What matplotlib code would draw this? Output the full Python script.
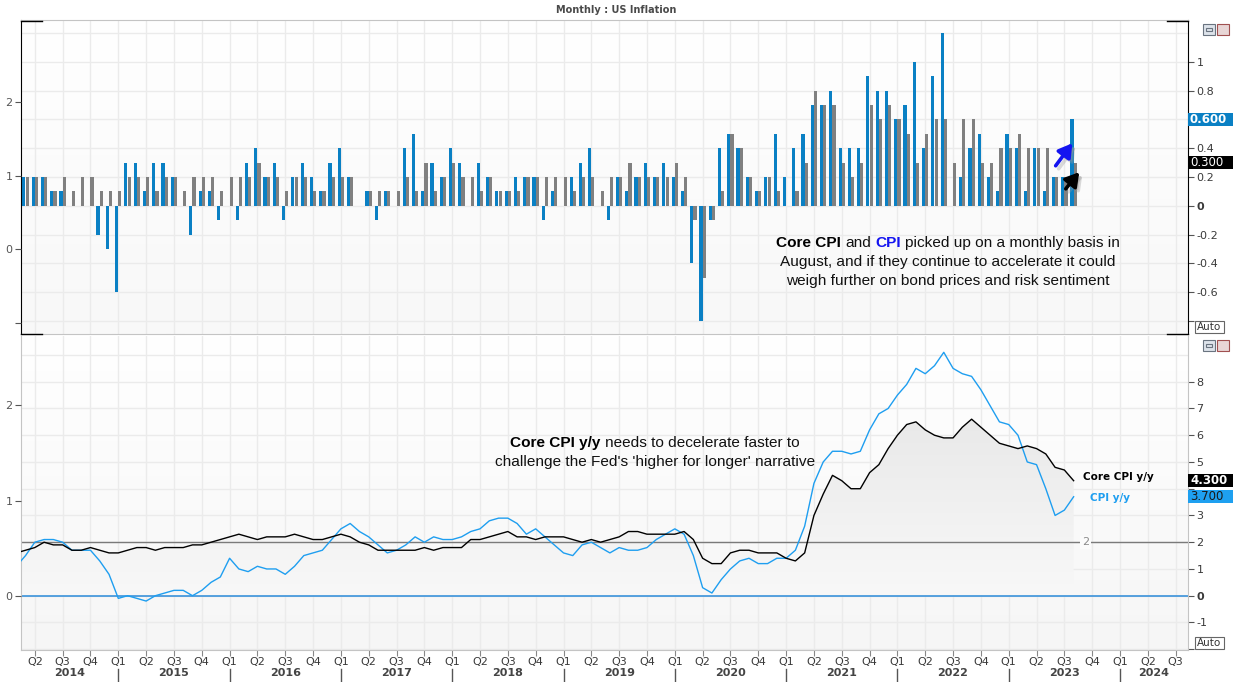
import matplotlib
matplotlib.use("Agg")
import matplotlib.pyplot as plt
import matplotlib.colors as mcolors
import numpy as np
from matplotlib.patches import Rectangle, FancyArrowPatch
from matplotlib.lines import Line2D

W, H = 1233, 682
SANS = ["Liberation Sans", "DejaVu Sans"]
UI = "DejaVu Sans"

# x positions are month indices, 0 = Jan 2014
BAR_FIRST = 2    # Mar 2014
LINE_FIRST = 1   # Feb 2014

# monthly % change, Mar 2014 .. Aug 2023
cpi_mm = [
    0.2, 0.2, 0.2, 0.1, 0.1, 0.0, 0.0, 0.0, -0.2, -0.3,
    -0.6, 0.3, 0.3, 0.1, 0.3, 0.3, 0.2, 0.0, -0.2, 0.1, 0.1, -0.1,
    0.0, -0.1, 0.3, 0.4, 0.2, 0.3, -0.1, 0.2, 0.3, 0.2, 0.1, 0.3,
    0.4, 0.2, 0.0, 0.1, -0.1, 0.1, 0.0, 0.4, 0.5, 0.1, 0.3, 0.2,
    0.4, 0.3, 0.0, 0.3, 0.2, 0.1, 0.1, 0.2, 0.2, 0.2, -0.1, 0.1,
    0.0, 0.2, 0.3, 0.4, 0.0, -0.1, 0.2, 0.1, 0.2, 0.3, 0.2, 0.3,
    0.2, 0.1, -0.4, -0.8, -0.1, 0.4, 0.5, 0.4, 0.2, 0.1, 0.2, 0.5,
    0.2, 0.4, 0.5, 0.7, 0.7, 0.8, 0.4, 0.4, 0.4, 0.9, 0.8, 0.8,
    0.6, 0.7, 1.0, 0.4, 0.9, 1.2, 0.0, 0.2, 0.4, 0.5, 0.2, 0.1,
    0.5, 0.4, 0.1, 0.4, 0.1, 0.2, 0.2, 0.6,
]
core_mm = [
    0.2, 0.2, 0.2, 0.1, 0.2, 0.1, 0.2, 0.2, 0.1, 0.1,
    0.1, 0.2, 0.2, 0.2, 0.1, 0.2, 0.2, 0.1, 0.2, 0.2, 0.2, 0.1,
    0.2, 0.2, 0.2, 0.3, 0.2, 0.2, 0.1, 0.2, 0.2, 0.1, 0.1, 0.2,
    0.2, 0.2, 0.0, 0.1, 0.1, 0.1, 0.1, 0.2, 0.1, 0.3, 0.1, 0.2,
    0.3, 0.2, 0.2, 0.1, 0.2, 0.1, 0.1, 0.1, 0.2, 0.2, 0.2, 0.2,
    0.2, 0.1, 0.2, 0.2, 0.1, 0.2, 0.2, 0.3, 0.2, 0.2, 0.2, 0.2,
    0.3, 0.2, -0.1, -0.5, -0.1, 0.1, 0.5, 0.4, 0.2, 0.1, 0.2, 0.1,
    0.0, 0.1, 0.3, 0.8, 0.7, 0.7, 0.3, 0.2, 0.3, 0.7, 0.6, 0.7,
    0.6, 0.5, 0.3, 0.5, 0.6, 0.6, 0.3, 0.6, 0.6, 0.3, 0.3, 0.4,
    0.4, 0.5, 0.4, 0.4, 0.4, 0.2, 0.2, 0.3,
]

# year-on-year %, Feb 2014 .. Aug 2023
cpi_yy = [
    1.1, 1.5, 2.0, 2.1, 2.1, 2.0, 1.7, 1.7, 1.7, 1.3, 0.8,
    -0.1, 0.0, -0.1, -0.2, 0.0, 0.1, 0.2, 0.2, 0.0, 0.2, 0.5, 0.7,
    1.4, 1.0, 0.9, 1.1, 1.0, 1.0, 0.8, 1.1, 1.5, 1.6, 1.7, 2.1,
    2.5, 2.7, 2.4, 2.2, 1.9, 1.6, 1.7, 1.9, 2.2, 2.0, 2.2, 2.1,
    2.1, 2.2, 2.4, 2.5, 2.8, 2.9, 2.9, 2.7, 2.3, 2.5, 2.2, 1.9,
    1.6, 1.5, 1.9, 2.0, 1.8, 1.6, 1.8, 1.7, 1.7, 1.8, 2.1, 2.3,
    2.5, 2.3, 1.5, 0.3, 0.1, 0.6, 1.0, 1.3, 1.4, 1.2, 1.2, 1.4,
    1.4, 1.7, 2.6, 4.2, 5.0, 5.4, 5.4, 5.3, 5.4, 6.2, 6.8, 7.0,
    7.5, 7.9, 8.5, 8.3, 8.6, 9.1, 8.5, 8.3, 8.2, 7.7, 7.1, 6.5,
    6.4, 6.0, 5.0, 4.9, 4.0, 3.0, 3.2, 3.7,
]
core_yy = [
    1.6, 1.7, 1.8, 2.0, 1.9, 1.9, 1.7, 1.7, 1.8, 1.7, 1.6,
    1.6, 1.7, 1.8, 1.8, 1.7, 1.8, 1.8, 1.8, 1.9, 1.9, 2.0, 2.1,
    2.2, 2.3, 2.2, 2.1, 2.2, 2.2, 2.2, 2.3, 2.2, 2.1, 2.1, 2.2,
    2.3, 2.2, 2.0, 1.9, 1.7, 1.7, 1.7, 1.7, 1.7, 1.8, 1.7, 1.8,
    1.8, 1.8, 2.1, 2.1, 2.2, 2.3, 2.4, 2.2, 2.2, 2.1, 2.2, 2.2,
    2.2, 2.1, 2.0, 2.1, 2.0, 2.1, 2.2, 2.4, 2.4, 2.3, 2.3, 2.3,
    2.3, 2.4, 2.1, 1.4, 1.2, 1.2, 1.6, 1.7, 1.7, 1.6, 1.6, 1.6,
    1.4, 1.3, 1.6, 3.0, 3.8, 4.5, 4.3, 4.0, 4.0, 4.6, 4.9, 5.5,
    6.0, 6.4, 6.5, 6.2, 6.0, 5.9, 5.9, 6.3, 6.6, 6.3, 6.0, 5.7,
    5.6, 5.5, 5.6, 5.5, 5.3, 4.8, 4.7, 4.3,
]

years = list(range(2014, 2025))
XMIN, XMAX = 1.51, 127.33

BAR_BLUE = "#0a80c4"
BAR_GREY = "#808080"
LINE_BLUE = "#1e9ef0"
GRID = "#ebebeb"
FRAME = "#c4c4c4"
TXT = "#3a3a3a"

fig = plt.figure(figsize=(W / 100, H / 100), dpi=100)


def px_axes(left, top, right, bottom):
    return fig.add_axes([left / W, 1 - bottom / H, (right - left) / W, (bottom - top) / H])


def vgrad(ax, top_color, bottom_color, extent, transform, zorder, clip=None):
    c0 = np.array(mcolors.to_rgb(top_color))
    c1 = np.array(mcolors.to_rgb(bottom_color))
    t = np.linspace(0, 1, 256)[:, None]
    img = (c0 * (1 - t) + c1 * t)[:, None, :]
    im = ax.imshow(img, extent=extent, transform=transform, aspect="auto",
                   zorder=zorder, interpolation="bilinear")
    if clip is not None:
        im.set_clip_path(clip, ax.transData)
    return im


def fig_line(x0, y0, x1, y1, color, lw=1.0):
    fig.add_artist(Line2D([x0 / W, x1 / W], [1 - y0 / H, 1 - y1 / H],
                          transform=fig.transFigure, color=color, lw=lw))


def fig_rect(x, y, w, h, fc, ec="none", lw=1.0, z=5):
    fig.add_artist(Rectangle((x / W, 1 - (y + h) / H), w / W, h / H,
                             transform=fig.transFigure, facecolor=fc,
                             edgecolor=ec, lw=lw, zorder=z))


def style_frame(ax, left_color, right_color):
    ax.spines["top"].set_color(FRAME)
    ax.spines["bottom"].set_color(FRAME)
    ax.spines["left"].set_color(left_color)
    ax.spines["right"].set_color(right_color)


def scales(ax, lo, hi, ticks, labels):
    # left-hand secondary scale; the main (right) scale belongs to ax
    tw = ax.twinx()
    tw.set_ylim(lo, hi)
    tw.yaxis.set_ticks_position("left")
    tw.set_yticks(ticks)
    tw.set_yticklabels(labels)
    tw.tick_params(axis="y", length=4, width=0.8, color="#555555",
                   labelsize=8, labelcolor="#555555", pad=2)
    for s in tw.spines.values():
        s.set_visible(False)
    ax.yaxis.set_ticks_position("right")
    ax.tick_params(axis="y", which="both", length=4, width=0.8, color="#555555",
                   labelsize=8, labelcolor=TXT, pad=2,
                   left=False, labelleft=False, right=True, labelright=True)
    for lab in ax.get_yticklabels():
        if lab.get_text() == "0":
            lab.set_fontweight("bold")
    return tw


quarters = np.arange(3, 127, 3)
jans = [12 * (y - 2014) for y in years]

# ---------------- top panel: monthly bars ----------------
ax1 = px_axes(21, 20, 1188, 334)
style_frame(ax1, "black", "black")
vgrad(ax1, "#ffffff", "#f8f8f8", [0, 1, 0, 1], ax1.transAxes, 0)
for q in quarters:
    ax1.axvline(q, color=GRID, lw=1, zorder=0.5)
for v in np.arange(-0.8, 1.21, 0.2):
    ax1.axhline(v, color=GRID, lw=1, zorder=0.5)

mb = np.arange(BAR_FIRST, BAR_FIRST + len(cpi_mm))
ax1.bar(mb - 0.18, cpi_mm, width=0.34, color=BAR_BLUE, zorder=2)
ax1.bar(mb + 0.17, core_mm, width=0.34, color=BAR_GREY, zorder=2)

ax1.set_xlim(XMIN, XMAX)
ax1.set_ylim(-0.89, 1.29)
ticks1 = np.round(np.arange(-0.8, 1.01, 0.2), 1)
ax1.set_yticks(ticks1)
# -0.8 sits under the "Auto" button, 0.6 under the last-value box
ax1.set_yticklabels(["" if t in (-0.8, 0.6) else ("0" if t == 0 else f"{t:g}") for t in ticks1])
ax1.set_xticks([])
scales(ax1, -1.15, 3.12, [-1, 0, 1, 2], ["", "0", "1", "2"])

# ---------------- bottom panel: y/y lines ----------------
ax2 = px_axes(21, 336, 1188, 650)
style_frame(ax2, FRAME, FRAME)
ax2.spines["top"].set_visible(False)
vgrad(ax2, "#ffffff", "#f6f6f6", [0, 1, 0, 1], ax2.transAxes, 0)
for q in quarters:
    ax2.axvline(q, color=GRID, lw=1, zorder=0.5)
for v in range(-2, 10):
    ax2.axhline(v, color=GRID, lw=1, zorder=0.5)

ml = np.arange(LINE_FIRST, LINE_FIRST + len(cpi_yy))
area = ax2.fill_between(ml, core_yy, 0, facecolor="none", edgecolor="none")
vgrad(ax2, "#e9e9e9", "#f8f8f8", [ml[0], ml[-1], 0, max(core_yy)], ax2.transData, 1,
      clip=area.get_paths()[0])

ax2.axhline(0, color="#2a8ad8", lw=1.1, zorder=2)
ax2.axhline(2, color="#7a7a7a", lw=1, zorder=2)
ax2.text(116.3, 2, "2", color="#8a8a8a", fontsize=8, family=UI, ha="center", va="center",
         zorder=3, bbox=dict(boxstyle="square,pad=0.15", fc="#fbfbfb", ec="none"))

ax2.plot(ml, cpi_yy, color=LINE_BLUE, lw=1.0, zorder=3)
ax2.plot(ml, core_yy, color="black", lw=1.0, zorder=4)

ax2.set_xlim(XMIN, XMAX)
ax2.set_ylim(-2.03, 9.71)
ticks2 = list(range(-2, 9))
ax2.set_yticks(ticks2)
ax2.set_yticklabels(["" if t in (-2, 4) else str(t) for t in ticks2])
scales(ax2, -0.57, 2.73, [0, 1, 2], ["0", "1", "2"])

ax2.set_xticks(quarters)
ax2.set_xticklabels([f"Q{(q % 12) // 3 + 1}" for q in quarters])
ax2.tick_params(axis="x", length=4, width=0.8, color="#888888", labelsize=8,
                labelcolor=TXT, pad=1)
for lab in ax2.get_xticklabels():
    lab.set_family(UI)

xt = ax2.get_xaxis_transform()
for y, j in zip(years, jans):
    lo, hi = max(j, XMIN), min(j + 12, XMAX)
    ax2.text((lo + hi) / 2, -0.073, str(y), transform=xt, ha="center", va="center",
             fontsize=8, fontweight="bold", color="#444444", family=UI, clip_on=False)
    if XMIN < j < XMAX:
        ax2.add_line(Line2D([j, j], [-0.060, -0.102], transform=xt, color="#555555",
                            lw=1, clip_on=False))

# black caps on the top panel's scale lines
fig_line(21, 20.5, 42, 20.5, "black")
fig_line(21, 333.5, 42, 333.5, "black")
fig_line(1167, 20.5, 1188, 20.5, "black")
fig_line(1167, 333.5, 1188, 333.5, "black")

# title
fig.text(616 / W, 1 - 10 / H, "Monthly : US Inflation", ha="center", va="center",
         fontsize=7, fontweight="bold", color="#4a4a4a", family=UI)


# last-value boxes on the right scales
def value_box(ax, val, text, fc, tc, bold=False):
    y = ax.transData.transform((XMIN, val))[1]
    ypx = H - y
    fig_rect(1188, ypx - 6.5, 45, 13, fc, z=6)
    fig.text(1190 / W, y / H, text, ha="left", va="center", fontsize=8.5,
             fontweight="bold" if bold else "normal", color=tc, family=UI, zorder=7)


value_box(ax1, 0.6, "0.600", "#0a80c4", "white", bold=True)
value_box(ax1, 0.3, "0.300", "black", "white")
value_box(ax2, 4.3, "4.300", "black", "white", bold=True)
value_box(ax2, 3.7, "3.700", "#1ea0f0", "#1a1a1a")

# series labels next to the line ends
fig.text(1083 / W, 1 - 477 / H, "Core CPI y/y", ha="left", va="center", fontsize=7.5,
         fontweight="bold", color="black", family=UI)
fig.text(1090 / W, 1 - 498 / H, "CPI y/y", ha="left", va="center", fontsize=7.5,
         fontweight="bold", color=LINE_BLUE, family=UI)

# "Auto" buttons and window icons
for yb in (321, 637):
    fig_rect(1195, yb, 29, 12, "white", ec="#666666", lw=0.8, z=6)
    fig.text(1209.5 / W, 1 - (yb + 6) / H, "Auto", ha="center", va="center",
             fontsize=7.5, color="#333333", family=UI, zorder=7)
for yi in (24, 340):
    fig_rect(1203, yi, 12, 11, "#dde3ea", ec="#6a7480", lw=0.8, z=6)
    fig_rect(1206, yi + 4, 6, 3, "none", ec="#6a7480", lw=0.8, z=7)
    fig_rect(1217, yi, 12, 11, "#e8d6d6", ec="#a05050", lw=0.8, z=6)
    fig_line(1219, yi + 2, 1227, yi + 9, "#a05050", lw=1.2)
    fig_line(1219, yi + 9, 1227, yi + 2, "#a05050", lw=1.2)


# arrows with a soft shadow
def arrow(x0, y0, x1, y1, color):
    for dx, dy, c, a in ((3, 3, "#999999", 0.35), (0, 0, color, 1.0)):
        fig.add_artist(FancyArrowPatch(
            ((x0 + dx) / W, 1 - (y0 + dy) / H), ((x1 + dx) / W, 1 - (y1 + dy) / H),
            transform=fig.transFigure, arrowstyle="-|>,head_length=5,head_width=3",
            mutation_scale=1.6, color=c, alpha=a, lw=2.6, zorder=8))


arrow(1054, 168, 1074, 141, "#1414f0")
arrow(1064, 191, 1081, 170, "black")

# annotation text with mixed weight/colour
renderer = fig.canvas.get_renderer()


def text_width(s, size, weight):
    t = fig.text(0, 0, s, fontsize=size, fontweight=weight, family=SANS)
    w = t.get_window_extent(renderer).width
    t.remove()
    return w


def rich_line(cx, base_y, parts, size):
    gap = text_width("a a", size, "normal") - text_width("aa", size, "normal")
    widths = [text_width(s, size, w) for s, w, _ in parts]
    x = cx - (sum(widths) + gap * (len(parts) - 1)) / 2
    for (s, w, c), wd in zip(parts, widths):
        fig.text(x / W, 1 - base_y / H, s, fontsize=size, fontweight=w, color=c,
                 family=SANS, ha="left", va="baseline", zorder=9)
        x += wd + gap


FS = 11.1
rich_line(948, 247, [("Core CPI", "bold", "black"), ("and", "normal", "#111111"),
                     ("CPI", "bold", "#1414f0"),
                     ("picked up on a monthly basis in", "normal", "#111111")], FS)
rich_line(948, 266, [("August, and if they continue to accelerate it could", "normal", "#111111")], FS)
rich_line(948, 285, [("weigh further on bond prices and risk sentiment", "normal", "#111111")], FS)

rich_line(655, 447, [("Core CPI y/y", "bold", "black"),
                     ("needs to decelerate faster to", "normal", "#111111")], FS)
rich_line(655, 466, [("challenge the Fed's 'higher for longer' narrative", "normal", "#111111")], FS)

fig.savefig("out.png", dpi=100, facecolor="white")
